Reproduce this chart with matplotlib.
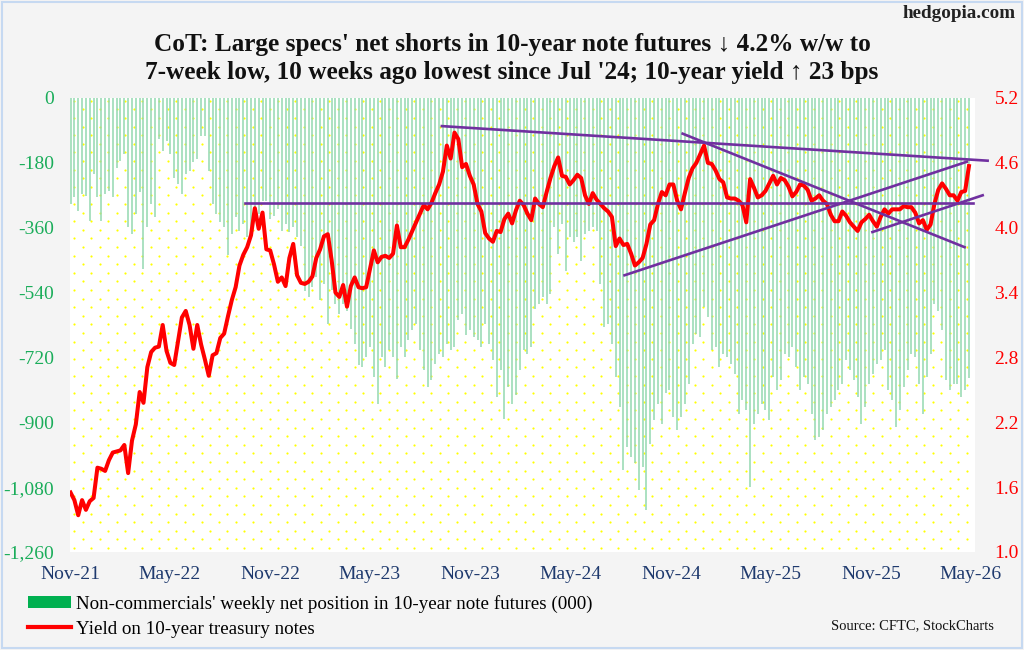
import numpy as np
import pandas as pd
import matplotlib
matplotlib.use("Agg")
import matplotlib.pyplot as plt
import matplotlib.dates as mdates
from matplotlib.ticker import FuncFormatter
from matplotlib.patches import Patch, Rectangle
from matplotlib.lines import Line2D

plt.rcParams['font.family'] = ['Liberation Serif', 'DejaVu Serif']

# weekly CoT dates (Tuesdays)
dates = pd.date_range('2021-11-02', periods=235, freq='7D')

# non-commercials net position, 10-year note futures (000 contracts)
net_pos = [
    -295, -276, -313, -267, -271, -341, -211, -276, -341, -267,
    -258, -276, -193, -174, -156, -359, -378, -322, -262, -475,
    -359, -295, -331, -115, -147, -119, -156, -221, -239, -267,
    -211, -202, -179, -170, -105, -105, -202, -295, -322, -345,
    -359, -437, -378, -331, -368, -350, -387, -368, -331, -322,
    -285, -285, -336, -327, -308, -368, -350, -373, -359, -387,
    -412, -535, -553, -525, -497, -562, -516, -627, -534, -571,
    -599, -571, -590, -640, -682, -742, -747, -719, -691, -774,
    -848, -719, -747, -700, -719, -779, -691, -719, -673, -645,
    -627, -700, -756, -802, -784, -737, -710, -719, -682, -700,
    -691, -617, -599, -659, -645, -664, -673, -691, -627, -682,
    -728, -830, -756, -890, -802, -848, -825, -756, -700, -710,
    -690, -585, -571, -553, -571, -544, -359, -433, -350, -479,
    -387, -400, -387, -451, -377, -368, -359, -368, -516, -636,
    -627, -682, -774, -857, -1033, -968, -996, -1014, -1088, -1024,
    -1143, -959, -894, -848, -904, -820, -811, -885, -922, -885,
    -848, -793, -682, -654, -664, -581, -608, -700, -691, -747,
    -710, -719, -737, -765, -876, -839, -867, -1079, -904, -876,
    -848, -867, -894, -774, -811, -784, -710, -719, -691, -747,
    -811, -774, -793, -876, -950, -940, -922, -876, -857, -839,
    -811, -793, -728, -756, -784, -830, -904, -857, -793, -765,
    -737, -728, -700, -811, -839, -913, -867, -802, -756, -710,
    -719, -793, -876, -774, -710, -571, -590, -645, -784, -811,
    -795, -793, -830, -811, -777,
]

# 10-year treasury yield (%)
yield_10y = [
    1.55, 1.48, 1.34, 1.48, 1.39, 1.47, 1.50, 1.78, 1.77, 1.75,
    1.85, 1.92, 1.93, 1.94, 1.99, 1.73, 2.03, 2.18, 2.48, 2.38,
    2.71, 2.85, 2.89, 2.90, 3.10, 2.86, 2.75, 2.73, 2.95, 3.17,
    3.23, 3.10, 2.88, 3.10, 2.92, 2.78, 2.63, 2.82, 2.84, 2.98,
    3.02, 3.18, 3.33, 3.45, 3.65, 3.75, 3.82, 3.93, 4.18, 3.99,
    4.14, 3.80, 3.79, 3.66, 3.50, 3.54, 3.46, 3.72, 3.85, 3.56,
    3.49, 3.48, 3.50, 3.55, 3.72, 3.80, 3.92, 3.94, 3.70, 3.40,
    3.36, 3.47, 3.27, 3.46, 3.54, 3.45, 3.44, 3.45, 3.62, 3.79,
    3.68, 3.73, 3.74, 3.72, 3.76, 4.02, 3.82, 3.82, 3.89, 3.97,
    4.05, 4.13, 4.21, 4.17, 4.23, 4.32, 4.40, 4.52, 4.76, 4.64,
    4.88, 4.82, 4.56, 4.59, 4.48, 4.40, 4.22, 4.15, 3.95, 3.90,
    3.87, 3.97, 3.96, 4.08, 4.13, 4.04, 4.16, 4.25, 4.21, 4.13,
    4.07, 4.27, 4.22, 4.19, 4.33, 4.46, 4.57, 4.65, 4.48, 4.47,
    4.40, 4.44, 4.49, 4.46, 4.30, 4.22, 4.32, 4.26, 4.22, 4.18,
    4.15, 4.10, 3.83, 3.90, 3.84, 3.85, 3.76, 3.65, 3.68, 3.72,
    3.85, 4.03, 4.07, 4.22, 4.33, 4.30, 4.40, 4.40, 4.25, 4.17,
    4.32, 4.46, 4.55, 4.60, 4.68, 4.76, 4.60, 4.59, 4.53, 4.45,
    4.42, 4.28, 4.27, 4.27, 4.25, 4.21, 4.05, 4.45, 4.37, 4.28,
    4.30, 4.34, 4.41, 4.48, 4.40, 4.46, 4.44, 4.38, 4.29, 4.33,
    4.40, 4.39, 4.35, 4.25, 4.27, 4.30, 4.25, 4.22, 4.12, 4.06,
    4.06, 4.15, 4.11, 4.05, 4.01, 3.97, 4.05, 4.08, 4.12, 4.06,
    4.01, 4.10, 4.17, 4.13, 4.17, 4.17, 4.17, 4.20, 4.19, 4.19,
    4.14, 4.04, 4.07, 3.98, 4.03, 4.22, 4.35, 4.41, 4.36, 4.30,
    4.30, 4.25, 4.33, 4.34, 4.57,
]

# hand-drawn trendlines on the yield scale: (start date, start yield, end date, end yield)
trend_lines = [
    ('2022-09-16', 4.23, '2026-05-05', 4.23),
    ('2023-09-10', 4.94, '2026-06-01', 4.62),
    ('2024-11-22', 4.87, '2026-04-20', 3.82),
    ('2024-08-08', 3.56, '2026-04-24', 4.61),
    ('2025-11-03', 3.96, '2026-05-23', 4.30),
]

left_ticks = np.arange(-1260, 1, 180)
right_ticks = np.arange(1.0, 5.21, 0.6)
x_ticks = pd.date_range('2021-11-01', '2026-05-01', freq='6MS')

W, H = 1024, 650
fig = plt.figure(figsize=(W / 100, H / 100), dpi=100, facecolor='#f4f4f4')
fig.patches.append(Rectangle((0.002, 0.003), 0.996, 0.994, transform=fig.transFigure,
                             fill=False, edgecolor='#c6d9f1', lw=1.5))

ax_l, ax_b, ax_w, ax_h = 70, 98, 905, 454
ax = fig.add_axes([ax_l / W, 1 - (ax_b + ax_h) / H, ax_w / W, ax_h / H])
ax.set_facecolor('white')

# yellow dotted background
pts_x, pts_y = [], []
for r in range(int(ax_h / 8.6) + 1):
    off = 4 + (r % 2) * 8.5
    for k in range(int(ax_w / 17) + 1):
        px = off + 17 * k
        if px < ax_w - 1:
            pts_x.append(px / ax_w)
            pts_y.append((4 + 8.6 * r) / ax_h)
ax.scatter(pts_x, pts_y, s=2.5, color='#ffff00', transform=ax.transAxes,
           zorder=0.5, linewidths=0)

ax.vlines(dates, net_pos, 0, color='#93d9b0', linewidth=1.1, zorder=1)
ax.set_ylim(-1260, 0)
ax.set_yticks(left_ticks)
ax.yaxis.set_major_formatter(FuncFormatter(lambda v, p: f'{int(v):,}'))
ax.set_xlim(pd.Timestamp('2021-11-01'), pd.Timestamp('2026-05-09'))
ax.set_xticks(x_ticks)
ax.xaxis.set_major_formatter(mdates.DateFormatter('%b-%y'))

ax2 = ax.twinx()
ax2.plot(dates, yield_10y, color='#ff0000', linewidth=2.9, solid_joinstyle='round', zorder=3)
for d0, y0, d1, y1 in trend_lines:
    ax2.plot([pd.Timestamp(d0), pd.Timestamp(d1)], [y0, y1], color='#7030a0',
             linewidth=1.9, clip_on=False, zorder=4)
ax2.set_ylim(1.0, 5.2)
ax2.set_yticks(right_ticks)
ax2.yaxis.set_major_formatter(FuncFormatter(lambda v, p: f'{v:.1f}'))

for a in (ax, ax2):
    for s in a.spines.values():
        s.set_visible(False)
ax.tick_params(axis='y', length=0, pad=11.5, labelsize=14, labelcolor='#1aad5a')
ax.tick_params(axis='x', length=0, pad=10, labelsize=14, labelcolor='#1f3a6e')
ax2.tick_params(axis='y', length=0, pad=14, labelsize=14, labelcolor='#ff0000')

fig.text(0.5, 1 - 44 / H, "CoT: Large specs' net shorts in 10-year note futures \u2193 4.2% w/w to",
         ha='center', va='center', fontsize=18.2, fontweight='bold', color='#111111')
fig.text(0.5, 1 - 72 / H, "7-week low, 10 weeks ago lowest since Jul '24; 10-year yield \u2191 23 bps",
         ha='center', va='center', fontsize=18.2, fontweight='bold', color='#111111')
fig.text(1016 / W, 1 - 13 / H, 'hedgopia.com', ha='right', va='center', fontsize=13.8,
         fontweight='bold', color='#222222')

handles = [Patch(facecolor='#00b050', edgecolor='none'),
           Line2D([0], [0], color='#ff0000', linewidth=3)]
labels = ["Non-commercials' weekly net position in 10-year note futures (000)",
          'Yield on 10-year treasury notes']
fig.legend(handles, labels, loc='upper left', bbox_to_anchor=(28 / W, 1 - 595 / H),
           frameon=False, fontsize=13.7, handlelength=2.25, handleheight=0.55,
           handletextpad=0.25, labelspacing=0.4, borderpad=0, borderaxespad=0)
fig.text(994 / W, 1 - 626 / H, 'Source: CFTC, StockCharts', ha='right', va='center',
         fontsize=10.5, color='#111111')

fig.savefig('out.png', dpi=100, facecolor=fig.get_facecolor())
